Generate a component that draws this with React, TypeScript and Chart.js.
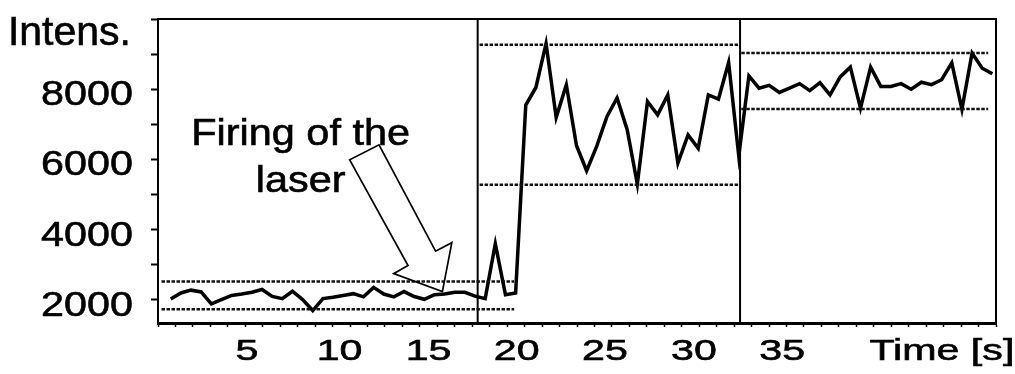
import React, { useEffect, useRef } from "react";
import { Chart, registerables } from "chart.js";

Chart.register(...registerables);

// ---- data ----
const sampleStart = 0.73; // s, time of first sample
const sampleStep = 0.581; // s, sampling interval
const intensity = [
  2030, 2200, 2280, 2230, 1890, 2010, 2130, 2170, 2220, 2300, 2100, 2040, 2250, 2010, 1700, 2040,
  2080, 2130, 2180, 2090, 2360, 2170, 2090, 2240, 2100, 2020, 2150, 2170, 2220, 2220, 2110, 2040,
  3600, 2150, 2200, 7550, 8050, 9300, 7200, 8130, 6400, 5680, 6380, 7220, 7750, 6850, 5300, 7650,
  7270, 7840, 5900, 6700, 6320, 7840, 7720, 8760, 6100,
  8380, 8030, 8110, 7910, 8030, 8160, 7960, 8190, 7840, 8350, 8630, 7460, 8630, 8080, 8080, 8160,
  8000, 8200, 8130, 8270, 8750, 7430, 9030, 8600, 8440,
];

const bandStart = [0.2, 18.42, 33.41];
const bandEnd = [20.4, 33.28, 47.55];
const bandUpper = [2530, 9270, 9030];
const bandLower = [1735, 5280, 7440];

const markerTimes = [18.31, 33.34];

const xMin = 0;
const xMax = 48;
const yMin = 1345;
const yMax = 10000;

const xTickLabels = ["5", "10", "15", "20", "25", "30", "35", "Time [s]"];
const xTickLabelAt = [5.1, 10.4, 15.5, 20.55, 25.6, 30.7, 35.75, 44.9];
const yTickLabels = ["2000", "4000", "6000", "8000", "Intens."];
const yTickLabelAt = [2000, 4000, 6000, 8000, 10000];

const annotationLines = ["Firing of the", "laser"];
const annotationAt = { x: 8.17, y: 6418 };
const arrowOutline = [
  { x: 10.98, y: 5990 },
  { x: 14.32, y: 2983 },
  { x: 13.5, y: 2750 },
  { x: 16.29, y: 2237 },
  { x: 16.83, y: 3633 },
  { x: 15.9, y: 3391 },
  { x: 12.66, y: 6418 },
];

const FONT = '"Liberation Sans", Arial, Helvetica, sans-serif';

const decorPlugin = {
  id: "decor",
  afterDatasetsDraw(chart: any) {
    const { ctx, chartArea, scales } = chart;
    const xs = scales.x;
    const ys = scales.y;
    ctx.save();
    // top and right frame
    ctx.strokeStyle = "#000";
    ctx.lineWidth = 2;
    ctx.beginPath();
    ctx.moveTo(chartArea.left, chartArea.top);
    ctx.lineTo(chartArea.right, chartArea.top);
    ctx.lineTo(chartArea.right, chartArea.bottom);
    ctx.stroke();
    // arrow
    ctx.lineWidth = 1.7;
    ctx.lineJoin = "miter";
    ctx.beginPath();
    arrowOutline.forEach((p, i) => {
      const px = xs.getPixelForValue(p.x);
      const py = ys.getPixelForValue(p.y);
      if (i === 0) ctx.moveTo(px, py);
      else ctx.lineTo(px, py);
    });
    ctx.closePath();
    ctx.stroke();
    ctx.restore();
  },
  afterDraw(chart: any) {
    const { ctx, chartArea, scales } = chart;
    const xs = scales.x;
    const ys = scales.y;
    const put = (text: string, px: number, py: number, size: number, sx: number, align: CanvasTextAlign) => {
      ctx.save();
      ctx.translate(px, py);
      ctx.scale(sx, 1);
      ctx.font = `${size}px ${FONT}`;
      ctx.fillStyle = "#000";
      ctx.strokeStyle = "#000";
      ctx.lineWidth = 0.6;
      ctx.textAlign = align;
      ctx.textBaseline = "alphabetic";
      ctx.fillText(text, 0, 0);
      ctx.strokeText(text, 0, 0);
      ctx.restore();
    };
    // y labels
    yTickLabels.forEach((t, i) => {
      const py = ys.getPixelForValue(yTickLabelAt[i]);
      if (/^\d+$/.test(t)) put(t, chartArea.left - 25, py + 16, 35, 1.18, "right");
      else put(t, chartArea.left - 27, py + 26, 41, 1.0, "right");
    });
    // x labels
    xTickLabels.forEach((t, i) => {
      const px = xs.getPixelForValue(xTickLabelAt[i]);
      put(t, px, chartArea.bottom + 37, 29, 1.42, "center");
    });
    // annotation text
    const ax = xs.getPixelForValue(annotationAt.x);
    const ay = ys.getPixelForValue(annotationAt.y);
    annotationLines.forEach((t, i) => {
      put(t, ax, ay + i * 46.7, 37, 1.12, "center");
    });
  },
};

export default function App() {
  const canvasRef = useRef<HTMLCanvasElement | null>(null);

  useEffect(() => {
    const canvas = canvasRef.current;
    if (!canvas) return;

    const mainData = intensity.map((v, i) => ({ x: sampleStart + i * sampleStep, y: v }));
    const bandSets: any[] = [];
    bandStart.forEach((s, i) => {
      [bandUpper[i], bandLower[i]].forEach((lvl) => {
        bandSets.push({
          data: [
            { x: s, y: lvl },
            { x: bandEnd[i], y: lvl },
          ],
          borderColor: "#111",
          borderWidth: 2.5,
          borderDash: [3.5, 1.5],
          pointRadius: 0,
          fill: false,
        });
      });
    });
    const markerSets = markerTimes.map((t) => ({
      data: [
        { x: t, y: yMin },
        { x: t, y: yMax },
      ],
      borderColor: "#000",
      borderWidth: 2,
      pointRadius: 0,
      fill: false,
    }));

    const chart = new Chart(canvas, {
      type: "line",
      data: {
        datasets: [
          ...bandSets,
          ...markerSets,
          {
            data: mainData,
            borderColor: "#000",
            borderWidth: 3.5,
            pointRadius: 0,
            tension: 0,
            fill: false,
            borderJoinStyle: "miter",
          },
        ],
      },
      options: {
        animation: false,
        responsive: false,
        events: [],
        layout: { padding: { top: 19, right: 19, left: 0, bottom: 0 } },
        plugins: {
          legend: { display: false },
          tooltip: { enabled: false },
          title: { display: false },
        },
        scales: {
          x: {
            type: "linear",
            min: xMin,
            max: xMax,
            afterFit: (s: any) => {
              s.height = 374 - 323;
            },
            afterBuildTicks: (s: any) => {
              const t = [];
              for (let v = xMin; v <= xMax; v++) t.push({ value: v });
              s.ticks = t;
            },
            ticks: { display: false, autoSkip: false, includeBounds: false },
            grid: {
              drawOnChartArea: false,
              drawTicks: true,
              tickLength: 4,
              tickWidth: 1.5,
              color: "#000",
            },
            border: { display: true, color: "#000", width: 3 },
          },
          y: {
            type: "linear",
            min: yMin,
            max: yMax,
            afterFit: (s: any) => {
              s.width = 158;
            },
            afterBuildTicks: (s: any) => {
              const t = [];
              for (let v = 2000; v <= yMax; v += 1000) t.push({ value: v });
              s.ticks = t;
            },
            ticks: { display: false, autoSkip: false, includeBounds: false },
            grid: {
              drawOnChartArea: false,
              drawTicks: true,
              tickLength: 7,
              tickWidth: 2,
              color: "#000",
            },
            border: { display: true, color: "#000", width: 2 },
          },
        },
      },
      plugins: [decorPlugin],
    } as any);

    return () => chart.destroy();
  }, []);

  return (
    <div style={{ position: "fixed", left: 0, top: 0, width: 1015, height: 374, background: "#fff" }}>
      <canvas ref={canvasRef} width={1015} height={374} style={{ display: "block" }} />
    </div>
  );
}
